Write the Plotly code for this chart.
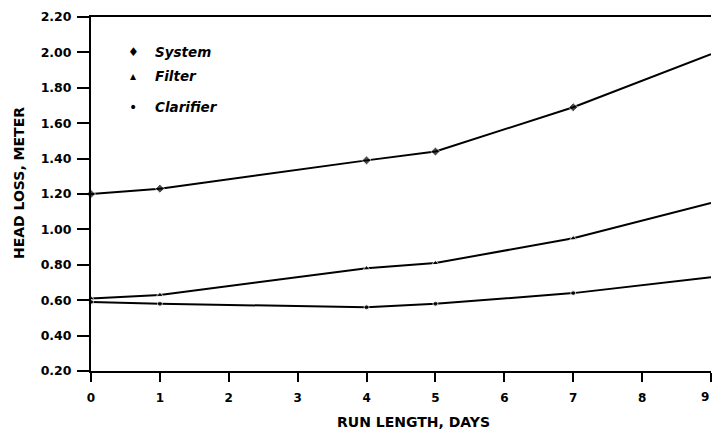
import plotly.graph_objects as go

days = [0, 1, 4, 5, 7, 9]
system = [1.20, 1.23, 1.39, 1.44, 1.69, 1.99]
filter_ = [0.61, 0.63, 0.78, 0.81, 0.95, 1.15]
clarifier = [0.59, 0.58, 0.56, 0.58, 0.64, 0.73]

x_ticks = [0, 1, 2, 3, 4, 5, 6, 7, 8, 9]
y_ticks = [0.20, 0.40, 0.60, 0.80, 1.00, 1.20, 1.40, 1.60, 1.80, 2.00, 2.20]
y_labels = ["0.20", "0.40", "0.60", "0.80", "1.00", "1.20", "1.40", "1.60", "1.80", "2.00", "2.20"]

series = [
    ("System", system, "diamond", 7),
    ("Filter", filter_, "triangle-up", 6),
    ("Clarifier", clarifier, "circle", 5),
]

fig = go.Figure()
for name, vals, sym, sz in series:
    sizes = [sz] * (len(days) - 1) + [0]
    fig.add_trace(go.Scatter(
        x=days, y=vals, mode="lines+markers", name=name,
        line=dict(color="black", width=2),
        marker=dict(symbol=sym, size=sizes, color="black"),
        showlegend=False, cliponaxis=False,
    ))

annotations = [
    dict(text="<b>RUN LENGTH, DAYS</b>", xref="paper", yref="paper",
         x=0.52, y=-0.144, xanchor="center", yanchor="middle", showarrow=False,
         font=dict(family="DejaVu Sans", size=14)),
    dict(text="<b>HEAD LOSS, METER</b>", xref="paper", yref="paper",
         x=-0.115, y=0.53, xanchor="center", yanchor="middle", showarrow=False,
         textangle=-90, font=dict(family="DejaVu Sans", size=14)),
    dict(text="♦", xref="paper", yref="paper", x=0.068, y=0.901,
         xanchor="center", yanchor="middle", showarrow=False, font=dict(size=12)),
    dict(text="▴", xref="paper", yref="paper", x=0.068, y=0.833,
         xanchor="center", yanchor="middle", showarrow=False, font=dict(size=12)),
    dict(text="•", xref="paper", yref="paper", x=0.068, y=0.746,
         xanchor="center", yanchor="middle", showarrow=False, font=dict(size=14)),
    dict(text="<b><i>System</i></b>", xref="paper", yref="paper", x=0.1, y=0.901,
         xanchor="left", yanchor="middle", showarrow=False, font=dict(size=13.5)),
    dict(text="<b><i>Filter</i></b>", xref="paper", yref="paper", x=0.1, y=0.833,
         xanchor="left", yanchor="middle", showarrow=False, font=dict(size=13.5)),
    dict(text="<b><i>Clarifier</i></b>", xref="paper", yref="paper", x=0.1, y=0.746,
         xanchor="left", yanchor="middle", showarrow=False, font=dict(size=13.5)),
    # last tick label, kept inside the page at the right edge
    dict(text=f"<b>{x_ticks[-1]}</b>", xref="x", yref="paper", x=x_ticks[-1], y=-0.074,
         xanchor="right", yanchor="middle", showarrow=False,
         font=dict(family="DejaVu Sans", size=12)),
]

fig.update_layout(
    width=713, height=434,
    margin=dict(l=91, r=2, t=17, b=63),
    paper_bgcolor="white", plot_bgcolor="white",
    font=dict(family="DejaVu Sans", size=12, color="black"),
    xaxis=dict(
        range=[0, 9], tickvals=x_ticks, ticktext=[f"<b>{t}</b>" for t in x_ticks],
        showline=True, linecolor="black", linewidth=2, mirror=True,
        ticks="outside", ticklen=9, tickwidth=2, tickcolor="black",
        showgrid=False, zeroline=False, tickfont=dict(family="DejaVu Sans", size=12),
        ticklabelstandoff=6,
    ),
    yaxis=dict(
        range=[0.2, 2.2], tickvals=y_ticks, ticktext=[f"<b>{t}</b>" for t in y_labels],
        showline=True, linecolor="black", linewidth=2,
        ticks="outside", ticklen=12, tickwidth=2, tickcolor="black",
        showgrid=False, zeroline=False, tickfont=dict(family="DejaVu Sans", size=12.5),
        ticklabelstandoff=3,
    ),
    annotations=annotations,
)

fig.write_html("out.html", config={"displayModeBar": False},
               post_script="document.body.style.margin='0';")
